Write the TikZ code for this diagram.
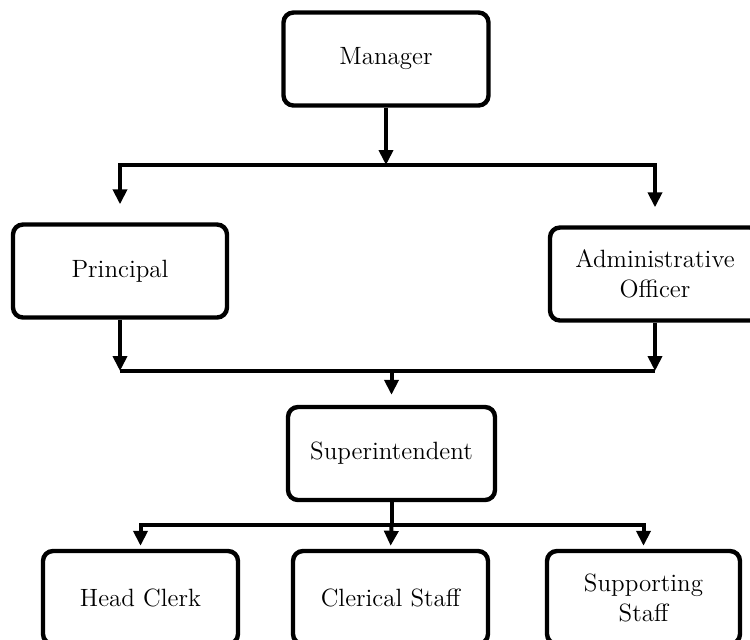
\documentclass[tikz,border=0pt]{standalone}
\usetikzlibrary{arrows.meta,calc}
\begin{document}
\begin{tikzpicture}[x=0.5pt,y=-0.5pt,
  box/.style={draw=black,line width=2.2pt,rounded corners=5pt,fill=white,
    minimum width=#1*0.5pt,minimum height=93*0.5pt,inner sep=0pt,align=center,
    font=\fontsize{12.5}{15}\selectfont},
  box/.default=205,
  conn/.style={line width=2pt,draw=black},
  arr/.style={conn,-{Triangle[width=7pt,length=7.5pt]}}]
\useasboundingbox (0,0) rectangle (750,639);
\clip (0,0) rectangle (750,639);
% nodes
\node[box=205] (m) at (386,59) {Manager};
\node[box=214] (p) at (120,271) {Principal};
\node[box=210] (a) at (655,274) {Administrative\\Officer};
\node[box=207] (s) at (391.5,453.5) {Superintendent};
\node[box=195] (h) at (140.5,597.5) {Head Clerk};
\node[box=195] (c) at (390.5,597.5) {Clerical Staff};
\node[box=193] (u) at (643.5,597.5) {Supporting\\Staff};
% bus coordinates
\coordinate (b1) at (386,165);
\coordinate (b2) at (391.5,371);
\coordinate (b3) at (391.5,525);
% Manager to bus 1
\draw[arr] (m.south) -- (m.south |- b1);
\draw[arr,shorten >=9pt] (b1) -| (p.north);
\draw[arr,shorten >=9pt] (b1) -| (a.north);
% Principal and Admin to bus 2
\draw[arr] (p.south) -- (p.south |- b2);
\draw[arr] (a.south) -- (a.south |- b2);
\draw[conn] (p.south |- b2) -- (a.south |- b2);
\draw[arr,shorten >=5pt] (b2) -- (s.north);
% Superintendent to bottom
\draw[conn] (s.south) -- (b3);
\draw[arr,shorten >=1.5pt] (b3) -| (h.north);
\draw[arr,shorten >=1.5pt] (b3) -| (u.north);
\draw[arr,shorten >=1.5pt] (b3) -- (c.north);
\end{tikzpicture}
\end{document}
